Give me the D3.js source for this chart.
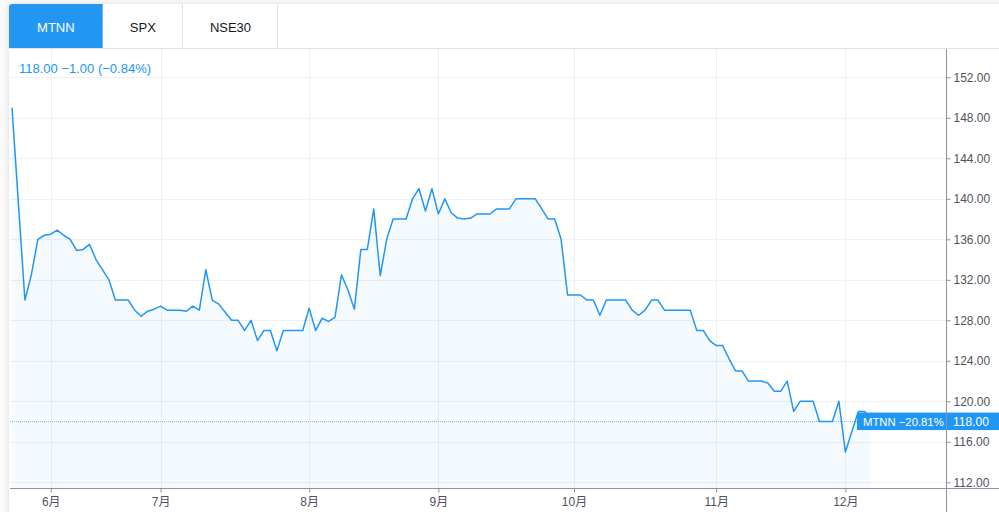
<!DOCTYPE html>
<html>
<head>
<meta charset="utf-8">
<script src="https://cdn.jsdelivr.net/npm/d3@7"></script>
<style>
  html, body { margin: 0; padding: 0; background: #ffffff; }
  svg { display: block; }
  text { font-family: "Liberation Sans", Arial, "Noto Sans CJK SC", sans-serif; }
</style>
</head>
<body>
<svg id="chart" width="999" height="512"></svg>
<script>
// ---------- data ----------
const symbol = "MTNN";
const tabs = ["MTNN", "SPX", "NSE30"];
const prices = [149, 139.5, 130, 132.5, 136, 136.4, 136.5, 136.9, 136.4, 136,
  134.9, 135, 135.5, 134, 133, 132, 130, 130, 130, 129,
  128.4, 128.9, 129.1, 129.4, 129, 129, 129, 128.9, 129.4, 129,
  133, 130, 129.6, 128.8, 128, 128, 127, 128, 126, 127,
  127, 125, 127, 127, 127, 127, 129.2, 127, 128.2, 127.9,
  128.3, 132.5, 131, 129.1, 135, 135, 139, 132.4, 136, 138,
  138, 138, 140, 141, 138.8, 141, 138.5, 140, 138.6, 138.1,
  138, 138.1, 138.5, 138.5, 138.5, 139, 139, 139, 140, 140,
  140, 140, 139, 138, 138, 136, 130.5, 130.5, 130.5, 130,
  130, 128.5, 130, 130, 130, 130, 129, 128.5, 129, 130,
  130, 129, 129, 129, 129, 129, 127, 127, 126, 125.5,
  125.5, 124.2, 123, 123, 122, 122, 122, 121.8, 121, 121,
  122, 119, 120, 120, 120, 118, 118, 118, 120, 115,
  117, 119, 119, 118];
const monthLabels = ["6月", "7月", "8月", "9月", "10月", "11月", "12月"];
const monthIndex = [6, 23, 46, 66, 87, 109, 129];
const yTicks = [112, 116, 120, 124, 128, 132, 136, 140, 144, 148, 152];

// ---------- layout ----------
const W = 999, H = 512;
const plotL = 10, plotR = 946, plotT = 49, plotB = 488;
const blue = "#2196f3";

const svg = d3.select("#chart");

const x = d3.scaleLinear().domain([0, prices.length - 1]).range([12, 871.2]);
const y = d3.scaleLinear().domain([112, 152]).range([482.3, 77.3]);

// card shadow
const defs = svg.append("defs");
const f = defs.append("filter").attr("id", "sh").attr("x", "-5%").attr("y", "-5%").attr("width", "110%").attr("height", "110%");
f.append("feDropShadow").attr("dx", 0).attr("dy", 0).attr("stdDeviation", 3).attr("flood-color", "#000").attr("flood-opacity", 0.12);
svg.append("rect").attr("x", 0).attr("y", 0).attr("width", W).attr("height", H).attr("fill", "#fafafb");
svg.append("rect").attr("x", 9).attr("y", 4).attr("width", W).attr("height", H).attr("rx", 3)
  .attr("fill", "#ffffff").attr("filter", "url(#sh)");

// tabs
const tabEdges = [9, 102.7, 183, 278];
const tabG = svg.append("g");
tabs.forEach((t, i) => {
  const x0 = tabEdges[i], x1 = tabEdges[i + 1];
  if (i === 0) {
    tabG.append("path")
      .attr("d", `M${x0},48.5 L${x0},7 Q${x0},4 ${x0 + 3},4 L${x1},4 L${x1},48.5 Z`)
      .attr("fill", blue);
  } else {
    tabG.append("line").attr("x1", x1 - 0.5).attr("x2", x1 - 0.5).attr("y1", 4).attr("y2", 48.5)
      .attr("stroke", "#e0e3eb").attr("stroke-width", 1);
  }
  tabG.append("text").attr("x", (x0 + x1) / 2).attr("y", 27)
    .attr("text-anchor", "middle").attr("dominant-baseline", "central")
    .attr("font-size", 13).attr("fill", i === 0 ? "#ffffff" : "#131722").text(t);
});
svg.append("line").attr("x1", 9).attr("x2", W).attr("y1", 48.5).attr("y2", 48.5)
  .attr("stroke", "#e0e3eb");

// gridlines
const grid = svg.append("g");
yTicks.forEach(v => {
  grid.append("line").attr("x1", plotL).attr("x2", plotR).attr("y1", Math.round(y(v)) + 0.5).attr("y2", Math.round(y(v)) + 0.5)
    .attr("stroke", "#eef0f5").attr("stroke-width", 1);
});
monthIndex.forEach(i => {
  grid.append("line").attr("x1", Math.round(x(i)) + 0.5).attr("x2", Math.round(x(i)) + 0.5).attr("y1", plotT).attr("y2", plotB)
    .attr("stroke", "#eef0f5").attr("stroke-width", 1);
});

// area + line
const area = d3.area().x((d, i) => x(i)).y0(plotB).y1(d => y(d));
const line = d3.line().x((d, i) => x(i)).y(d => y(d));
svg.append("path").datum(prices).attr("d", area).attr("fill", blue).attr("fill-opacity", 0.05);
svg.append("path").datum(prices).attr("d", line).attr("fill", "none")
  .attr("stroke", blue).attr("stroke-width", 1.5).attr("stroke-linejoin", "round");

// last price dotted line
const last = prices[prices.length - 1];
const prev = prices[prices.length - 2];
const first = prices[0];
svg.append("line").attr("x1", plotL).attr("x2", plotR).attr("y1", y(last)).attr("y2", y(last))
  .attr("stroke", blue).attr("stroke-opacity", 0.6).attr("stroke-dasharray", "1,1");

// axes
const axisColor = "#8f929b";
const yAxis = d3.axisRight(y).tickValues(yTicks).tickSize(4).tickSizeOuter(0).tickFormat(d3.format(".2f"));
const yG = svg.append("g").attr("transform", `translate(${plotR + 0.5},0)`).call(yAxis);
yG.select(".domain").remove();
yG.selectAll(".tick line").attr("stroke", axisColor);
yG.selectAll(".tick text").attr("x", 7).attr("font-size", 12).attr("fill", "#50535e")
  .attr("font-family", '"Liberation Sans", Arial, sans-serif');
svg.append("line").attr("x1", plotR + 0.5).attr("x2", plotR + 0.5).attr("y1", plotT).attr("y2", H).attr("stroke", axisColor);

const xAxis = d3.axisBottom(x).tickValues(monthIndex).tickSize(4)
  .tickFormat((d, i) => monthLabels[i]);
const xG = svg.append("g").attr("transform", `translate(0,${plotB + 0.5})`).call(xAxis);
xG.select(".domain").remove();
xG.selectAll(".tick line").attr("stroke", axisColor);
xG.selectAll(".tick text").attr("y", 9).attr("font-size", 12).attr("fill", "#50535e")
  .attr("font-family", '"Liberation Sans", Arial, "Noto Sans CJK SC", sans-serif');
svg.append("line").attr("x1", plotL).attr("x2", W).attr("y1", plotB + 0.5).attr("y2", plotB + 0.5).attr("stroke", axisColor);

// header text
const chg = last - prev;
const pct = chg / prev * 100;
const fmt = v => (v < 0 ? "\u2212" : "") + Math.abs(v).toFixed(2);
svg.append("text").attr("x", 19).attr("y", 68).attr("dominant-baseline", "central")
  .attr("font-size", 13).attr("fill", blue)
  .text(`${last.toFixed(2)} ${fmt(chg)} (${fmt(pct)}%)`);

// last value labels
const ly = y(last);
const totalPct = (last - first) / first * 100;
svg.append("rect").attr("x", 857).attr("y", ly - 9).attr("width", plotR - 857).attr("height", 17.5).attr("fill", blue);
svg.append("text").attr("x", 863).attr("y", ly).attr("dominant-baseline", "central")
  .attr("font-size", 11.3).attr("fill", "#ffffff").text(`${symbol} ${fmt(totalPct)}%`);
svg.append("rect").attr("x", plotR + 1).attr("y", ly - 9).attr("width", W - plotR).attr("height", 17.5).attr("fill", blue);
svg.append("text").attr("x", 953).attr("y", ly).attr("dominant-baseline", "central")
  .attr("font-size", 12).attr("fill", "#ffffff").text(last.toFixed(2));
</script>
</body>
</html>
